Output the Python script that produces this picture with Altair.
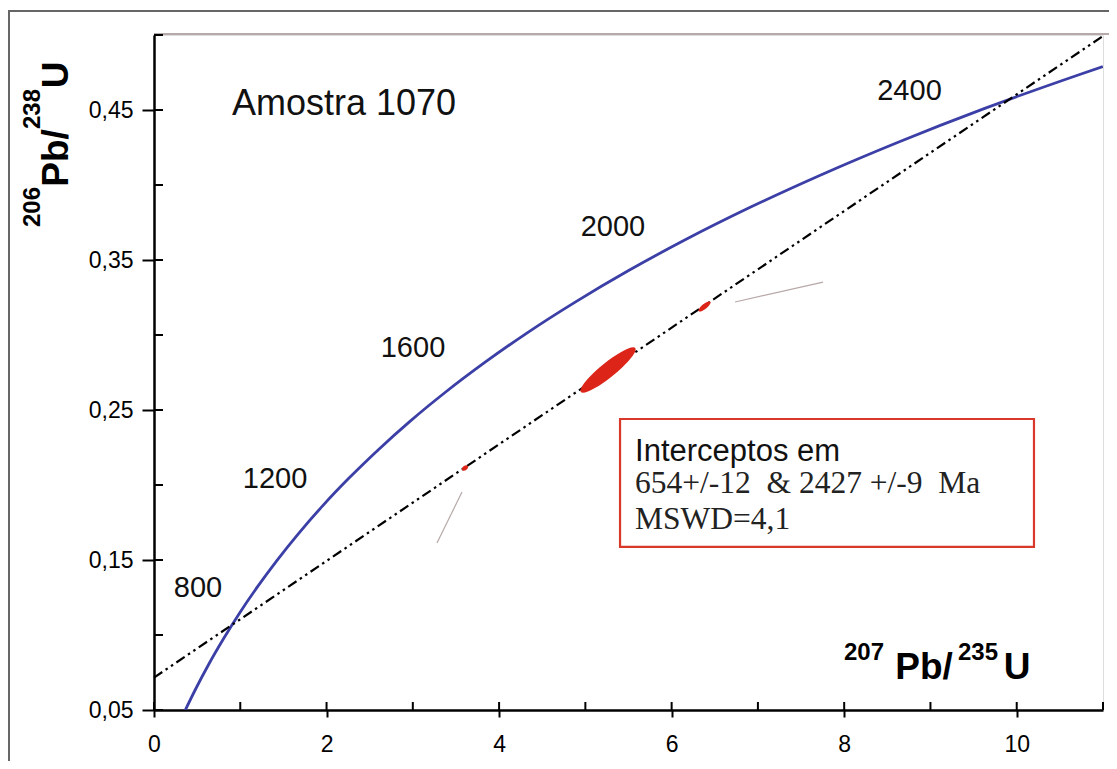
import altair as alt
import pandas as pd

# Concordia curve (207Pb/235U, 206Pb/238U)
conc_x = [0.3632, 0.4828, 0.6363, 0.8056, 0.9925, 1.1987, 1.4263, 1.6774, 1.9545, 2.2603,
          2.5977, 2.9701, 3.3810, 3.8344, 4.3348, 4.8869, 5.4962, 6.1685, 6.9105, 7.7292,
          8.6326, 9.6296, 10.7297, 10.9984]
conc_y = [0.0500, 0.0640, 0.0807, 0.0975, 0.1147, 0.1321, 0.1498, 0.1678, 0.1861, 0.2046,
          0.2234, 0.2426, 0.2620, 0.2817, 0.3018, 0.3221, 0.3428, 0.3638, 0.3851, 0.4067,
          0.4287, 0.4511, 0.4737, 0.4790]

# Discordia line end points
disc_x = [0.0, 11.0]
disc_y = [0.0716, 0.4993]

# Data-point error ellipses (centre, long axis in px, axis ratio)
ell_x = [5.263, 6.381, 3.605]
ell_y = [0.2767, 0.3190, 0.2113]
ell_len = [70, 15, 7]
ell_ratio = [0.21, 0.33, 0.65]

# Thin grey leader lines
lead_id = ["a", "a", "b", "b"]
lead_x = [3.280, 3.570, 6.735, 7.755]
lead_y = [0.1613, 0.1953, 0.3220, 0.3353]

# Age labels on the concordia
age_txt = ["800", "1200", "1600", "2000", "2400"]
age_x = [0.51, 1.403, 3.002, 5.32, 8.757]
age_y = [0.1253, 0.198, 0.2853, 0.366, 0.4567]

x_ticks = [0, 2, 4, 6, 8, 10]
y_ticks = [0.05, 0.15, 0.25, 0.35, 0.45]
x_minor = list(range(0, 12))
y_minor = [0.05, 0.10, 0.15, 0.20, 0.25, 0.30, 0.35, 0.40, 0.45, 0.50]

NB = "\u00a0"
box_lines = ["Interceptos em", f"654+/-12 {NB}& 2427 +/-9 {NB}Ma", "MSWD=4,1"]

# Axis titles split into superscript / normal pieces
xt_text = ["207", "Pb/", "235", "U"]
yt_text = ["206", "Pb/", "238", "U"]
t_sup = [True, False, True, False]

W, H = 949, 675
OX, OY = 154, 35  # page position of the plot origin
SANS = "Liberation Sans"
SERIF = "Liberation Serif"

xs = alt.Scale(domain=[0, 11], nice=False, zero=False)
ys = alt.Scale(domain=[0.05, 0.5], nice=False, zero=False)

conc = pd.DataFrame({"x": conc_x, "y": conc_y})
disc = pd.DataFrame({"x": disc_x, "y": disc_y})
ell = pd.DataFrame({
    "x": ell_x, "y": ell_y,
    "size": [l * l for l in ell_len],
    "shp": [f"M -1 0 A 1 {r} 0 1 1 1 0 A 1 {r} 0 1 1 -1 0 Z" for r in ell_ratio],
})
lead = pd.DataFrame({"id": lead_id, "x": lead_x, "y": lead_y})
ages = pd.DataFrame({"t": age_txt, "x": age_x, "y": age_y})

x_axis = alt.Axis(values=x_ticks, tickSize=7, tickWidth=2, tickColor="black",
                  domainColor="black", domainWidth=2.5, grid=False,
                  labelFont=SANS, labelFontSize=23, labelColor="black", labelPadding=16,
                  labelFlush=False, title=None)
y_axis = alt.Axis(values=y_ticks, tickSize=12, tickWidth=2, tickColor="black",
                  domainColor="black", domainWidth=2.5, grid=False,
                  labelExpr="replace(format(datum.value, '.2f'), '.', ',')",
                  labelFont=SANS, labelFontSize=23, labelColor="black", labelPadding=9,
                  labelFlush=False, title=None)


def X(field="x:Q"):
    return alt.X(field, scale=xs, axis=x_axis)


def Y(field="y:Q"):
    return alt.Y(field, scale=ys, axis=y_axis)


conc_line = alt.Chart(conc).mark_line(color="#3b3fa6", strokeWidth=2.8, interpolate="monotone",
                                      clip=True).encode(x=X(), y=Y())

disc_line = alt.Chart(disc).mark_line(color="black", strokeWidth=2.2,
                                      strokeDash=[10, 4, 2.5, 4, 2.5, 4]).encode(x=X(), y=Y())

lead_lines = alt.Chart(lead).mark_line(color="#b8a8a8", strokeWidth=1.2).encode(
    x=X(), y=Y(), detail="id:N")

ellipses = alt.Chart(ell).mark_point(filled=True, color="#dc2418", opacity=1,
                                     angle=321).encode(
    x=X(), y=Y(),
    size=alt.Size("size:Q", scale=None, legend=None),
    shape=alt.Shape("shp:N", scale=None, legend=None),
)

age_text = alt.Chart(ages).mark_text(font=SANS, fontSize=29, color="#111111",
                                     align="center", baseline="alphabetic").encode(
    x=X(), y=Y(), text="t:N")

title_text = alt.Chart(pd.DataFrame({"x": [0.904], "y": [0.4467], "t": ["Amostra 1070"]})).mark_text(
    font=SANS, fontSize=36, color="#111111", align="left", baseline="alphabetic").encode(
    x=X(), y=Y(), text="t:N")

box = alt.Chart(pd.DataFrame({"x": [5.402], "x2": [10.2], "y": [0.244], "y2": [0.1587]})).mark_rect(
    fill="white", stroke="#d8392b", strokeWidth=2.2).encode(
    x=X(), x2="x2:Q", y=Y(), y2="y2:Q")

box_t1 = alt.Chart(pd.DataFrame({"x": [5.576], "y": [0.216], "t": [box_lines[0]]})).mark_text(
    font=SANS, fontSize=31, color="#111111", align="left", baseline="alphabetic").encode(
    x=X(), y=Y(), text="t:N")
box_t23 = alt.Chart(pd.DataFrame({"x": [5.576, 5.576], "y": [0.1947, 0.1707],
                                  "t": box_lines[1:]})).mark_text(
    font=SERIF, fontSize=31.5, color="#222222", align="left", baseline="alphabetic").encode(
    x=X(), y=Y(), text="t:N")

y_in = alt.Chart(pd.DataFrame({"y": y_minor})).mark_rule(color="black", strokeWidth=2).encode(
    y=Y(), x=alt.value(0), x2=alt.value(9))
x_in = alt.Chart(pd.DataFrame({"x": x_minor})).mark_rule(color="black", strokeWidth=2).encode(
    x=X(), y=alt.value(H), y2=alt.value(H - 8))

top_line = alt.Chart(pd.DataFrame({"a": [0]})).mark_rule(color="#9c8c8c", strokeWidth=1.3).encode(
    x=alt.value(0), x2=alt.value(956), y=alt.value(-1))
frame_top = alt.Chart(pd.DataFrame({"a": [0]})).mark_rule(color="#666666", strokeWidth=2).encode(
    x=alt.value(-146), x2=alt.value(960), y=alt.value(-24))
frame_left = alt.Chart(pd.DataFrame({"a": [0]})).mark_rule(color="#666666", strokeWidth=2).encode(
    x=alt.value(-145), y=alt.value(-24), y2=alt.value(730))

# X-axis title pieces (page centres / baselines)
xt_cx = [864, 924, 978, 1017]
xt_base = [660, 679, 660, 679]
# Y-axis title pieces (rotated, read bottom to top)
yt_cy = [207, 158, 109, 75]
yt_base = [40, 68, 40, 68]

title_layers = []
for i, t in enumerate(xt_text):
    fs = 24 if t_sup[i] else 37
    title_layers.append(
        alt.Chart(pd.DataFrame({"t": [t]})).mark_text(
            font=SANS, fontWeight="bold", fontSize=fs, color="black",
            align="center", baseline="alphabetic").encode(
            text="t:N", x=alt.value(xt_cx[i] - OX), y=alt.value(xt_base[i] - OY)))
for i, t in enumerate(yt_text):
    fs = 24 if t_sup[i] else 37
    title_layers.append(
        alt.Chart(pd.DataFrame({"t": [t]})).mark_text(
            font=SANS, fontWeight="bold", fontSize=fs, color="black", angle=270,
            align="center", baseline="alphabetic").encode(
            text="t:N", x=alt.value(yt_base[i] - OX), y=alt.value(yt_cy[i] - OY)))

chart = alt.layer(
    conc_line, frame_top, frame_left, top_line, box, box_t1, box_t23,
    disc_line, lead_lines, ellipses, age_text, title_text, y_in, x_in, *title_layers,
).properties(
    width=W, height=H,
    autosize=alt.AutoSizeParams(type="none"),
    padding={"left": 146, "top": 27, "right": 6, "bottom": 51},
).configure_view(stroke=None).configure(background="white")

chart.save("out.html", embed_options={"renderer": "svg", "actions": False})
